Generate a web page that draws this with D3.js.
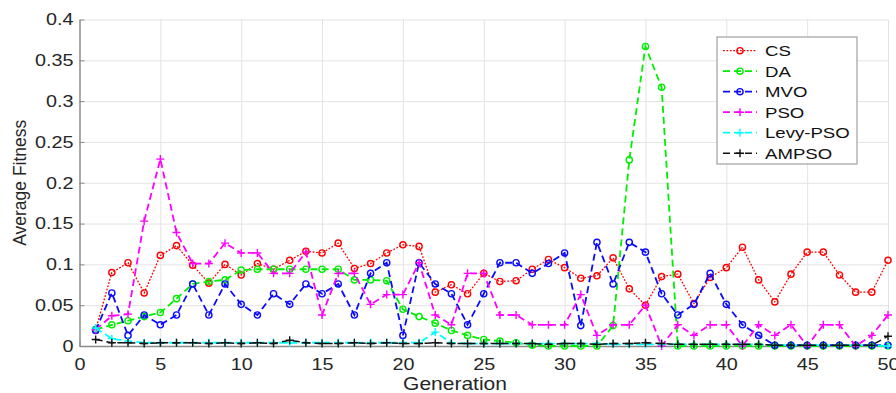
<!DOCTYPE html>
<html lang="en">
<head>
  <meta charset="UTF-8">
  <title>Average Fitness per Generation</title>
  <style>
    body { margin: 0; background: #fff; }
    svg { display: block; font-family: "Liberation Sans", Arial, sans-serif; }
  </style>
</head>
<body>
  <div id="chart"></div>
  <script src="https://d3js.org/d3.v7.min.js"></script>
  <script>
    const SVGWIDTH = 896;
    const SVGHEIGHT = 393;
    const STRETCH = 1.2; // the picture text looks wider than it is tall

    // data, generation 1..50
    const generations = d3.range(1, 51);
    const csValues = [0.020, 0.090, 0.102, 0.065, 0.111, 0.123, 0.099, 0.077, 0.100, 0.087,
                      0.101, 0.094, 0.105, 0.116, 0.114, 0.126, 0.095, 0.101, 0.114, 0.124,
                      0.122, 0.066, 0.075, 0.064, 0.089, 0.079, 0.080, 0.094, 0.106, 0.096,
                      0.083, 0.086, 0.108, 0.070, 0.050, 0.085, 0.088, 0.052, 0.084, 0.096,
                      0.121, 0.081, 0.054, 0.088, 0.115, 0.115, 0.087, 0.066, 0.066, 0.105];
    const daValues = [0.020, 0.026, 0.031, 0.036, 0.041, 0.058, 0.076, 0.079, 0.081, 0.093,
                      0.094, 0.094, 0.094, 0.094, 0.094, 0.094, 0.081, 0.081, 0.080, 0.045,
                      0.036, 0.028, 0.019, 0.013, 0.008, 0.006, 0.004, 0.001, 0.000, 0.000,
                      0.000, 0.000, 0.025, 0.228, 0.367, 0.317, 0.000, 0.000, 0.000, 0.000,
                      0.000, 0.000, 0.000, 0.000, 0.000, 0.000, 0.000, 0.000, 0.000, 0.000];
    const mvoValues = [0.019, 0.065, 0.013, 0.038, 0.026, 0.038, 0.076, 0.038, 0.076, 0.051,
                       0.038, 0.064, 0.051, 0.076, 0.064, 0.076, 0.038, 0.089, 0.102, 0.013,
                       0.102, 0.076, 0.064, 0.026, 0.064, 0.102, 0.102, 0.089, 0.101, 0.114,
                       0.025, 0.127, 0.076, 0.127, 0.115, 0.064, 0.038, 0.051, 0.089, 0.051,
                       0.026, 0.013, 0.001, 0.001, 0.001, 0.001, 0.001, 0.001, 0.001, 0.001];
    const psoValues = [0.020, 0.037, 0.039, 0.153, 0.229, 0.139, 0.101, 0.101, 0.126, 0.114,
                       0.114, 0.089, 0.089, 0.115, 0.038, 0.089, 0.089, 0.051, 0.063, 0.063,
                       0.102, 0.038, 0.026, 0.089, 0.089, 0.038, 0.038, 0.026, 0.026, 0.026,
                       0.063, 0.013, 0.026, 0.026, 0.050, 0.000, 0.026, 0.013, 0.026, 0.026,
                       0.000, 0.026, 0.013, 0.026, 0.000, 0.026, 0.026, 0.000, 0.013, 0.038];
    const levyValues = [0.022, 0.009, 0.006, 0.004, 0.004, 0.004, 0.004, 0.004, 0.004, 0.004,
                        0.004, 0.004, 0.004, 0.004, 0.004, 0.004, 0.004, 0.004, 0.004, 0.004,
                        0.004, 0.017, 0.004, 0.003, 0.003, 0.003, 0.003, 0.003, 0.003, 0.003,
                        0.003, 0.003, 0.002, 0.002, 0.002, 0.002, 0.002, 0.002, 0.002, 0.002,
                        0.002, 0.002, 0.001, 0.001, 0.001, 0.001, 0.001, 0.001, 0.001, 0.000];
    const ampsoValues = [0.008, 0.004, 0.004, 0.003, 0.004, 0.004, 0.004, 0.003, 0.004, 0.003,
                         0.004, 0.003, 0.007, 0.004, 0.003, 0.003, 0.004, 0.003, 0.004, 0.003,
                         0.003, 0.004, 0.003, 0.003, 0.003, 0.003, 0.003, 0.003, 0.002, 0.003,
                         0.003, 0.002, 0.003, 0.003, 0.004, 0.003, 0.002, 0.002, 0.002, 0.002,
                         0.002, 0.002, 0.001, 0.001, 0.001, 0.001, 0.001, 0.001, 0.001, 0.012];

    const seriesNames = ['CS', 'DA', 'MVO', 'PSO', 'Levy-PSO', 'AMPSO'];
    const seriesValues = [csValues, daValues, mvoValues, psoValues, levyValues, ampsoValues];

    const xTicks = [0, 5, 10, 15, 20, 25, 30, 35, 40, 45, 50];
    const yTicks = [0, 0.05, 0.1, 0.15, 0.2, 0.25, 0.3, 0.35, 0.4];
    const yTickLabels = ['0', '0.05', '0.1', '0.15', '0.2', '0.25', '0.3', '0.35', '0.4'];

    // styles per series
    const styles = [
      {color: '#ff0000', dash: '1.8,1.6', width: 1.3, marker: 'circle'},
      {color: '#00ee00', dash: '7,4', width: 1.8, marker: 'circle'},
      {color: '#0a0aff', dash: '7,4', width: 1.8, marker: 'circle'},
      {color: '#ff00ff', dash: '7,4', width: 1.8, marker: 'plus'},
      {color: '#00ffff', dash: '7,4', width: 1.8, marker: 'plus'},
      {color: '#111111', dash: '7,4', width: 1.5, marker: 'plus'}
    ];

    const margin = {top: 19.5, right: 8, bottom: 47, left: 79.5};
    const innerWidth = SVGWIDTH - margin.left - margin.right;
    const innerHeight = SVGHEIGHT - margin.top - margin.bottom;

    const xScale = d3.scaleLinear().domain([0, 50]).range([0, innerWidth]);
    const yScale = d3.scaleLinear().domain([0, 0.4]).range([innerHeight, 0]);

    const svg = d3.select('#chart')
      .append('svg')
      .attr('width', SVGWIDTH)
      .attr('height', SVGHEIGHT);

    const mainCont = svg.append('g')
      .attr('transform', `translate(${margin.left},${margin.top})`);

    // grid
    mainCont.append('g')
      .attr('class', 'grid')
      .attr('transform', `translate(0,${innerHeight})`)
      .call(d3.axisBottom(xScale).tickValues(xTicks).tickSize(-innerHeight).tickFormat(''))
      .call(g => g.select('.domain').remove())
      .selectAll('line').attr('stroke', '#e3e3e3');
    mainCont.append('g')
      .attr('class', 'grid')
      .call(d3.axisLeft(yScale).tickValues(yTicks).tickSize(-innerWidth).tickFormat(''))
      .call(g => g.select('.domain').remove())
      .selectAll('line').attr('stroke', '#e3e3e3');

    // axes
    const bottomAxis = mainCont.append('g')
      .attr('transform', `translate(0,${innerHeight})`)
      .call(d3.axisBottom(xScale).tickValues(xTicks).tickSizeInner(-5).tickSizeOuter(0).tickPadding(12));
    const leftAxis = mainCont.append('g')
      .call(d3.axisLeft(yScale).tickValues(yTicks).tickSizeInner(-5).tickSizeOuter(0).tickPadding(6)
        .tickFormat((d, i) => yTickLabels[i]));

    [bottomAxis, leftAxis].forEach(ax => {
      ax.select('.domain').attr('stroke', '#8a8a8a').attr('stroke-width', 1.4);
      ax.selectAll('.tick line').attr('stroke', '#8a8a8a');
      ax.selectAll('.tick text')
        .attr('fill', '#262626')
        .attr('font-size', 16.5)
        .attr('font-family', '"Liberation Sans", Arial, sans-serif');
    });
    bottomAxis.selectAll('.tick text').attr('transform', `scale(${STRETCH},1)`);
    leftAxis.selectAll('.tick text')
      .attr('x', -6 / STRETCH)
      .attr('transform', `scale(${STRETCH},1)`);

    // lines and markers
    const line = d3.line()
      .x((d, i) => xScale(generations[i]))
      .y(d => yScale(d));

    function drawMarker(sel, style, cx, cy) {
      if (style.marker === 'circle') {
        sel.append('circle')
          .attr('cx', cx).attr('cy', cy).attr('r', 3.1)
          .attr('fill', 'none')
          .attr('stroke', style.color)
          .attr('stroke-width', 1.4);
      } else {
        sel.append('path')
          .attr('d', `M${cx - 4},${cy}H${cx + 4}M${cx},${cy - 4}V${cy + 4}`)
          .attr('stroke', style.color)
          .attr('stroke-width', 1.4);
      }
    }

    seriesValues.forEach((values, s) => {
      const style = styles[s];
      const g = mainCont.append('g').attr('class', 'series');
      g.append('path')
        .datum(values)
        .attr('d', line)
        .attr('fill', 'none')
        .attr('stroke', style.color)
        .attr('stroke-width', style.width)
        .attr('stroke-dasharray', style.dash);
      values.forEach((v, i) => drawMarker(g, style, xScale(generations[i]), yScale(v)));
    });

    // axis titles
    svg.append('text')
      .attr('transform', `translate(455,390) scale(${STRETCH},1)`)
      .attr('text-anchor', 'middle')
      .attr('font-size', 17.5)
      .attr('fill', '#262626')
      .text('Generation');
    svg.append('text')
      .attr('transform', `translate(26,${margin.top + innerHeight / 2}) rotate(-90)`)
      .attr('text-anchor', 'middle')
      .attr('font-size', 17.5)
      .attr('fill', '#262626')
      .text('Average Fitness');

    // legend
    const legend = svg.append('g').attr('transform', 'translate(717,37)');
    legend.append('rect')
      .attr('width', 140).attr('height', 127)
      .attr('fill', '#fff')
      .attr('stroke', '#a0a0a0')
      .attr('stroke-width', 1.2);
    seriesNames.forEach((name, s) => {
      const style = styles[s];
      const y = 13.7 + s * 20.5;
      const row = legend.append('g');
      row.append('line')
        .attr('x1', 6).attr('x2', 40).attr('y1', y).attr('y2', y)
        .attr('stroke', style.color)
        .attr('stroke-width', style.width)
        .attr('stroke-dasharray', style.dash);
      drawMarker(row, style, 23, y);
      row.append('text')
        .attr('transform', `translate(48,${y}) scale(${STRETCH},1)`)
        .attr('dy', '0.36em')
        .attr('font-size', 15.5)
        .attr('fill', '#111')
        .text(name);
    });
  </script>
</body>
</html>
